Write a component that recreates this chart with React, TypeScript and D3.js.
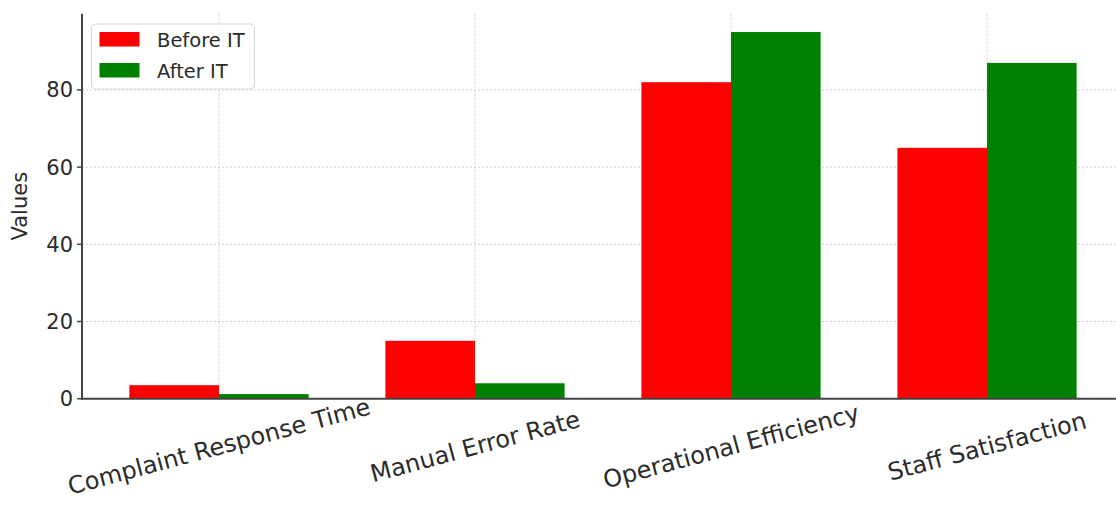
import React from "react";
import * as d3 from "d3";

const categories = [
  "Complaint Response Time",
  "Manual Error Rate",
  "Operational Efficiency",
  "Staff Satisfaction",
];
const beforeIT = [3.5, 15, 82, 65];
const afterIT = [1.2, 4, 95, 87];
const yTicks = [0, 20, 40, 60, 80];
const seriesNames = ["Before IT", "After IT"];
const seriesColors = ["#ff0000", "#008000"];

const W = 1116;
const H = 507;
const left = 82;
const right = 1124; // plot extends beyond the picture (cropped)
const top = 13.7;
const bottom = 398.7;
const barW = 0.35;
const font = "'DejaVu Sans', sans-serif";
const textColor = "#2b2b2b";

export default function App() {
  const x = d3.scaleLinear().domain([-0.535, 3.535]).range([left, right]);
  const y = d3.scaleLinear().domain([0, 99.75]).range([bottom, top]);
  const series = [beforeIT, afterIT];

  return (
    <div style={{ position: "fixed", left: 0, top: 0, width: W, height: H, overflow: "hidden", background: "#fff" }}>
      <svg width={W} height={H} style={{ display: "block" }}>
        {/* grid */}
        {yTicks.map((t) => (
          <line key={"gy" + t} x1={left} x2={right} y1={y(t)} y2={y(t)} stroke="#d0d0d0" strokeWidth={1} strokeDasharray="2,2" />
        ))}
        {categories.map((c, i) => (
          <line key={"gx" + c} x1={x(i)} x2={x(i)} y1={top} y2={bottom} stroke="#d0d0d0" strokeWidth={1} strokeDasharray="2,2" />
        ))}
        {/* bars */}
        {series.map((vals, s) =>
          vals.map((v, i) => {
            const x0 = s === 0 ? x(i - barW) : x(i);
            const x1 = s === 0 ? x(i) : x(i + barW);
            return (
              <rect key={s + "-" + i} x={x0} y={y(v)} width={x1 - x0} height={y(0) - y(v)} fill={seriesColors[s]} />
            );
          })
        )}
        {/* spines */}
        <line x1={left} x2={left} y1={top} y2={bottom + 1} stroke="#444" strokeWidth={2} />
        <line x1={left - 1} x2={right} y1={bottom} y2={bottom} stroke="#444" strokeWidth={2} />
        {/* y ticks */}
        {yTicks.map((t) => (
          <g key={"yt" + t}>
            <line x1={left - 5} x2={left} y1={y(t)} y2={y(t)} stroke="#444" strokeWidth={1.5} />
            <text x={left - 9} y={y(t)} dy="0.36em" textAnchor="end" fontFamily={font} fontSize={21} fill={textColor}>
              {t}
            </text>
          </g>
        ))}
        {/* y label */}
        <text
          transform={`translate(27,${(top + bottom) / 2}) rotate(-90)`}
          textAnchor="middle"
          fontFamily={font}
          fontSize={21}
          fill={textColor}
        >
          Values
        </text>
        {/* x labels */}
        {categories.map((c, i) => (
          <text
            key={"xl" + c}
            transform={`translate(${x(i)},${446}) rotate(-15)`}
            textAnchor="middle"
            dy="0.36em"
            fontFamily={font}
            fontSize={24}
            fill={textColor}
          >
            {c}
          </text>
        ))}
        {/* legend */}
        <rect x={91.5} y={24} width={163} height={65} rx={4} fill="#fff" fillOpacity={0.85} stroke="#d6d6d6" strokeWidth={1} />
        {seriesNames.map((n, s) => (
          <g key={n}>
            <rect x={99.5} y={32 + s * 31} width={40} height={14.5} fill={seriesColors[s]} />
            <text x={157} y={39.5 + s * 31} dy="0.36em" fontFamily={font} fontSize={19.5} fill={textColor}>
              {n}
            </text>
          </g>
        ))}
      </svg>
    </div>
  );
}
